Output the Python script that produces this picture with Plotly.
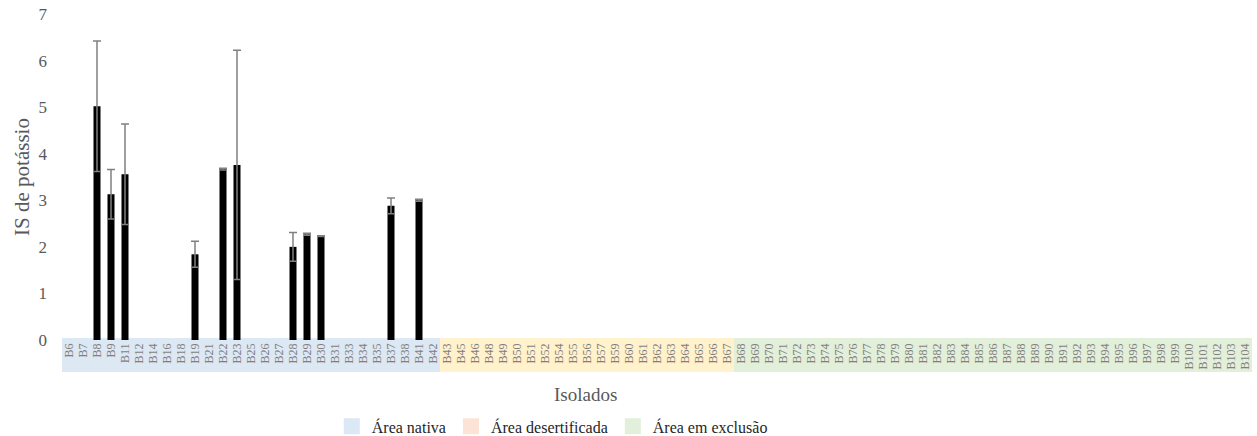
import plotly.graph_objects as go

# Isolados por área
nativa = ["B6", "B7", "B8", "B9", "B11", "B12", "B14", "B16", "B18", "B19",
          "B21", "B22", "B23", "B25", "B26", "B27", "B28", "B29", "B30", "B31",
          "B33", "B34", "B35", "B37", "B38", "B41", "B42"]
desertificada = ["B43", "B45", "B46", "B48", "B49", "B50", "B51", "B52", "B54",
                 "B55", "B56", "B57", "B59", "B60", "B61", "B62", "B63", "B64",
                 "B65", "B66", "B67"]
exclusao = ["B68", "B69", "B70", "B71", "B72", "B73", "B74", "B75", "B76",
            "B77", "B78", "B79", "B80", "B81", "B82", "B83", "B84", "B85",
            "B86", "B87", "B88", "B89", "B90", "B91", "B92", "B93", "B94",
            "B95", "B96", "B97", "B98", "B99", "B100", "B101", "B102", "B103",
            "B104"]

# Isolados com índice de solubilização
isolados_is = ["B8", "B9", "B11", "B19", "B22", "B23", "B28", "B29", "B30", "B37", "B41"]
is_potassio = [5.02, 3.13, 3.56, 1.84, 3.67, 3.76, 2.00, 2.27, 2.23, 2.88, 3.00]
desvio = [1.40, 0.53, 1.08, 0.28, 0.02, 2.46, 0.31, 0.02, 0.01, 0.17, 0.02]

areas = ["Área nativa", "Área desertificada", "Área em exclusão"]
cores_faixa = ["#dce8f4", "#fff2cc", "#e2efda"]
cores_legenda = ["#dce8f4", "#fbe4d5", "#e2efda"]

todos = nativa + desertificada + exclusao
fonte = "Liberation Serif, Times New Roman, DejaVu Serif, serif"
cinza = "#595959"

fig = go.Figure()

fig.add_trace(go.Bar(
    x=isolados_is,
    y=is_potassio,
    width=0.5,
    marker=dict(color="black", line=dict(width=0)),
    error_y=dict(type="data", array=desvio, visible=True,
                 color="#808080", thickness=1.5, width=4),
    showlegend=False,
))

# Legenda das áreas
for nome, cor in zip(areas, cores_legenda):
    fig.add_trace(go.Scatter(
        x=[None], y=[None], mode="markers", name=nome,
        marker=dict(symbol="square", size=16, color=cor),
    ))

# Faixas coloridas sob os rótulos
inicio = 0
for grupo, cor in zip([nativa, desertificada, exclusao], cores_faixa):
    fig.add_shape(
        type="rect", xref="x", yref="paper",
        x0=inicio - 0.5, x1=inicio + len(grupo) - 0.5,
        y0=-0.098, y1=0.006,
        fillcolor=cor, line=dict(width=0), layer="below",
    )
    inicio += len(grupo)

# Título do eixo x
fig.add_annotation(
    text="Isolados", xref="paper", yref="paper", x=0.44, y=-0.13,
    xanchor="center", yanchor="top", showarrow=False,
    font=dict(size=19, color=cinza),
)

fig.update_layout(
    width=1257, height=436,
    margin=dict(l=62, r=5, t=14, b=96, autoexpand=False),
    plot_bgcolor="white", paper_bgcolor="white",
    font=dict(family=fonte, color=cinza),
    bargap=0.5,
    legend=dict(orientation="h", x=0.412, xanchor="center", y=-0.213,
                yanchor="top", font=dict(size=16, color="#262626"),
                itemclick=False),
)

fig.update_xaxes(
    type="category", categoryorder="array", categoryarray=todos,
    tickmode="array", tickvals=todos, ticktext=todos,
    range=[-0.5, len(todos) - 0.5], automargin=False,
    tickangle=-90, tickfont=dict(size=12, color="#7f7f7f"),
    showgrid=False, showline=False, zeroline=False, ticks="",
)

fig.update_yaxes(
    range=[0, 7], dtick=1, showgrid=False, zeroline=False, showline=False,
    automargin=False, ticklabeloverflow="allow",
    tickfont=dict(size=17, color=cinza), ticklabelstandoff=14,
    title=dict(text="IS de potássio", font=dict(size=21, color=cinza), standoff=3),
)

# tira a margem padrão do body para a figura ocupar a janela toda
fig.write_html("out.html", config={"displayModeBar": False},
               post_script="document.body.style.margin = '0';")
